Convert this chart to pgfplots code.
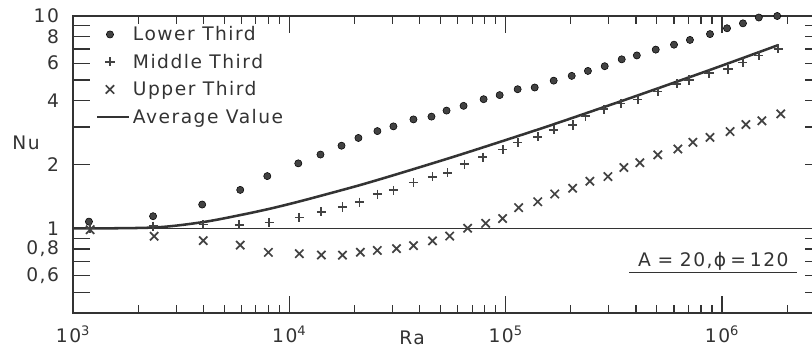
\documentclass[border=0pt]{standalone}
\usepackage{pgfplots}
\pgfplotsset{compat=1.18}
\usepackage{fontspec}
\setmainfont{DejaVu Sans}[LetterSpace=8]
\definecolor{ink}{HTML}{333333}
\definecolor{markink}{HTML}{424242}
\begin{document}
\begin{tikzpicture}[font=\fontsize{14}{16}\selectfont]
\begin{axis}[
  at={(54.75pt,31.5pt)}, anchor=south west,
  scale only axis, width=561.75pt, height=222.75pt,
  xmode=log, ymode=log,
  xmin=1000, xmax=2.9e6, ymin=0.4, ymax=10,
  clip=false,
  axis line style={ink, line width=1.5pt},
  every tick/.style={ink, line width=0.9pt},
  tick align=inside,
  major tick length=13pt,
  minor tick length=6pt,
  xtick={1e3,1e4,1e5,1e6},
  xticklabels={10\textsuperscript{3},10\textsuperscript{4},10\textsuperscript{5},10\textsuperscript{6}},
  minor xtick={2e3,3e3,4e3,5e3,6e3,7e3,8e3,9e3,2e4,3e4,4e4,5e4,6e4,7e4,8e4,9e4,2e5,3e5,4e5,5e5,6e5,7e5,8e5,9e5,2e6},
  ytick={0.5,0.6,0.7,0.8,0.9,1,2,3,4,5,6,7,8,9,10},
  yticklabels={{},{0,6},{},{0,8},{},1,2,{},4,{},6,{},8,{},10},
  minor ytick={},
  tick label style={font=\fontsize{14}{16}\selectfont, text=ink},
  xticklabel style={yshift=-6pt},
  yticklabel style={xshift=-7pt},
  legend style={at={(axis description cs:0.03,0.975)}, anchor=north west,
    draw=none, fill=none, font=\fontsize{14}{16}\selectfont,
    text=ink, row sep=4.5pt, inner sep=0pt},
  legend cell align=left,
]
\addplot[only marks, mark=*, mark size=2.7pt, draw=none, fill=markink] coordinates {
(1185,1.077) (2345,1.142) (3955,1.296) (5930,1.519) (7910,1.764) (11000,2.025)
(13930,2.228) (17430,2.452) (20860,2.667) (25530,2.873) (30280,3.024) (37480,3.261)
(45400,3.361) (53300,3.588) (63900,3.777) (79100,4.059) (93800,4.243) (113600,4.522)
(136200,4.607) (166700,4.963) (202000,5.226) (240000,5.514) (287000,5.804) (344000,6.253)
(404000,6.523) (494000,6.947) (600000,7.330) (711000,7.716) (880000,8.219) (1055000,8.755)
(1250000,9.236) (1480000,9.838) (1800000,10.0)};
\addlegendentry{Lower Third}
\addplot[only marks, mark=+, mark size=3.4pt, markink, line width=1.3pt] coordinates {
(1200,1.00) (2345,1.024) (4000,1.043) (5870,1.04) (8070,1.068) (11120,1.126)
(14060,1.197) (17600,1.262) (21100,1.330) (25530,1.450) (30300,1.512) (37500,1.644)
(45900,1.752) (53900,1.827) (64500,2.010) (78300,2.166) (96900,2.356) (113700,2.540)
(140700,2.704) (166800,2.914) (204000,3.068) (234000,3.376) (284000,3.638) (341000,3.874)
(408000,4.041) (505000,4.406) (619000,4.792) (704000,4.998) (871000,5.385) (1066000,5.617)
(1250000,6.038) (1480000,6.509) (1820000,7.015)};
\addlegendentry{Middle Third}
\addplot[only marks, mark=x, mark size=4.4pt, markink, line width=1.3pt] coordinates {
(1200,0.987) (2370,0.919) (4000,0.876) (5930,0.835) (8000,0.772) (11120,0.761)
(14060,0.750) (17600,0.749) (21300,0.773) (25500,0.788) (31300,0.804) (37500,0.830)
(45900,0.874) (55100,0.921) (66700,1.003) (80800,1.057) (96800,1.113) (114800,1.253)
(140700,1.336) (168600,1.453) (204000,1.547) (245000,1.668) (297000,1.755) (352000,1.936)
(417000,2.039) (505000,2.221) (625000,2.366) (734000,2.545) (880000,2.685) (1090000,2.858)
(1290000,3.084) (1530000,3.213) (1870000,3.463)};
\addlegendentry{Upper Third}
\addplot[ink, line width=1.9pt, smooth, tension=0.5,
  legend image code/.code={\draw[ink, line width=1.9pt] (-1.2pt,0pt) -- (22.8pt,0pt);}] coordinates {
(1000,1.000) (2345,1.010) (3955,1.070) (5930,1.156) (8170,1.240) (11000,1.336)
(15000,1.453) (21300,1.602) (30300,1.781) (50000,2.081) (71100,2.330) (130600,2.848)
(186000,3.212) (306000,3.823) (408000,4.229) (889000,5.596) (1820000,7.295)};
\addlegendentry{Average Value}
\addplot[ink, line width=1.1pt, forget plot] coordinates {(1000,1) (2.9e6,1)};
\end{axis}
\node[text=ink] at (19.5pt,159pt) {Nu};
\node[text=ink] at (309pt,12.75pt) {Ra};
\node[text=ink] at (535pt,70.5pt) {A\hspace{5pt}=\hspace{5pt}20,\hspace{1pt}ϕ\hspace{3pt}=\hspace{3pt}120};
\draw[ink, line width=1.1pt] (472pt,62pt) -- (598pt,62pt);
\pgfresetboundingbox
\useasboundingbox (0,0) rectangle (609pt,266.25pt);
\end{tikzpicture}
\end{document}
